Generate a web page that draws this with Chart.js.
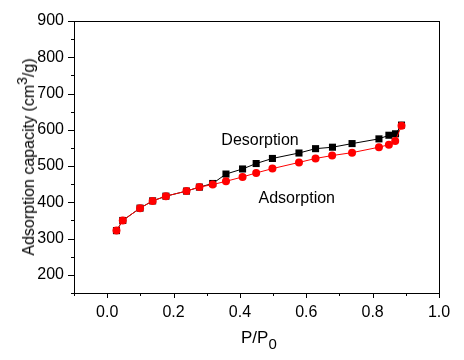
<!DOCTYPE html>
<html>
<head>
<meta charset="utf-8">
<script src="https://cdn.jsdelivr.net/npm/chart.js@4"></script>
<style>
  body { margin: 0; background: #fff; }
  #wrap { position: relative; width: 464px; height: 360px; }
  #chart { position: absolute; left: 0; top: 0; }
  .axtitle { position: absolute; font-family: Arial, "Liberation Sans", sans-serif; color: #000; white-space: nowrap; }
  #xtitle { left: 241px; top: 328px; font-size: 17px; }
  #xtitle sub { font-size: 15px; vertical-align: -6px; }
  #ytitle { left: 26px; top: 157px; font-size: 16px; transform: translate(-50%, -50%) rotate(-90deg); }
  #ytitle sup { font-size: 14px; vertical-align: 7px; }
</style>
</head>
<body>
<div id="wrap">
  <canvas id="chart" width="464" height="360"></canvas>
  <div class="axtitle" id="xtitle">P/P<sub>0</sub></div>
  <div class="axtitle" id="ytitle">Adsorption capacity (cm<sup>3</sup>/g)</div>
</div>
<script>
// isotherm data
const adsX = [0.028, 0.047, 0.099, 0.137, 0.177, 0.239, 0.278, 0.318, 0.358, 0.408,
              0.449, 0.498, 0.578, 0.628, 0.678, 0.738, 0.819, 0.849, 0.868, 0.887];
const adsY = [322, 350, 384, 404, 417, 431, 442, 449, 458, 470,
              481, 493, 510, 521, 529, 537, 552, 559, 569, 611];
const desX = [0.028, 0.047, 0.099, 0.137, 0.177, 0.239, 0.278, 0.318, 0.358, 0.408,
              0.449, 0.498, 0.578, 0.628, 0.679, 0.738, 0.819, 0.849, 0.869, 0.887];
const desY = [322, 350, 384, 404, 417, 431, 442, 452, 478, 492,
              507, 521, 536, 548, 552, 562, 575, 585, 589, 613];

// axis ranges
const xRange = [-0.1, 1.0];
const yRange = [150, 900];

// text labels inside the plot (data coordinates of left/baseline)
const notes = [
  { text: "Desorption", x: 0.344, y: 557 },
  { text: "Adsorption", x: 0.456, y: 397 }
];

const font = "Arial, 'Liberation Sans', sans-serif";

function toPoints(xs, ys) {
  return xs.map((x, i) => ({ x: x, y: ys[i] }));
}

// frame, short outer ticks and the two curve labels
const framePlugin = {
  id: "frame",
  afterDraw(chart) {
    const ctx = chart.ctx;
    const a = chart.chartArea;
    const xs = chart.scales.x, ys = chart.scales.y;
    ctx.save();
    ctx.strokeStyle = "#000";
    ctx.lineWidth = 1;
    ctx.strokeRect(Math.round(a.left) + 0.5, Math.round(a.top) + 0.5,
                   Math.round(a.right - a.left), Math.round(a.bottom - a.top));
    ctx.beginPath();
    xs.ticks.forEach(t => {
      const px = Math.round(xs.getPixelForValue(t.value)) + 0.5;
      const major = Math.round(t.value * 10) % 2 === 0;
      ctx.moveTo(px, Math.round(a.bottom));
      ctx.lineTo(px, Math.round(a.bottom) + (major ? 5 : 3));
    });
    ys.ticks.forEach(t => {
      const py = Math.round(ys.getPixelForValue(t.value)) + 0.5;
      const major = Math.round(t.value) % 100 === 0;
      ctx.moveTo(Math.round(a.left), py);
      ctx.lineTo(Math.round(a.left) - (major ? 6 : 3), py);
    });
    ctx.stroke();

    ctx.fillStyle = "#000";
    ctx.font = "16px " + font;
    ctx.textBaseline = "alphabetic";
    ctx.textAlign = "left";
    notes.forEach(n => {
      ctx.fillText(n.text, xs.getPixelForValue(n.x), ys.getPixelForValue(n.y));
    });
    ctx.restore();
  }
};

new Chart(document.getElementById("chart"), {
  type: "scatter",
  data: {
    datasets: [
      {
        label: "Adsorption",
        data: toPoints(adsX, adsY),
        showLine: true,
        borderColor: "#ff0000",
        backgroundColor: "#ff0000",
        borderWidth: 1,
        pointStyle: "circle",
        pointRadius: 4,
        pointBorderWidth: 0,
        tension: 0
      },
      {
        label: "Desorption",
        data: toPoints(desX, desY),
        showLine: true,
        borderColor: "#000",
        backgroundColor: "#000",
        borderWidth: 1,
        pointStyle: "rect",
        pointRadius: 5,
        pointBorderWidth: 0,
        tension: 0
      }
    ]
  },
  options: {
    responsive: false,
    animation: false,
    devicePixelRatio: 1,
    layout: { padding: { top: 21, right: 25, left: 0, bottom: 0 } },
    plugins: {
      legend: { display: false },
      tooltip: { enabled: false }
    },
    scales: {
      x: {
        type: "linear",
        min: xRange[0],
        max: xRange[1],
        border: { display: false },
        grid: { display: true, drawOnChartArea: false, color: "rgba(0,0,0,0)", tickLength: 5 },
        ticks: {
          stepSize: 0.1,
          autoSkip: false,
          maxRotation: 0,
          padding: 5,
          color: "#000",
          font: { family: font, size: 16 },
          callback: function(v) {
            const k = Math.round(v * 10);
            return (k >= 0 && k % 2 === 0) ? (k / 10).toFixed(1) : "";
          }
        },
        afterFit: function(scale) { scale.height = 67; }
      },
      y: {
        type: "linear",
        min: yRange[0],
        max: yRange[1],
        border: { display: false },
        grid: { display: true, drawOnChartArea: false, color: "rgba(0,0,0,0)", tickLength: 6 },
        ticks: {
          stepSize: 50,
          autoSkip: false,
          padding: 4,
          color: "#000",
          font: { family: font, size: 16 },
          callback: function(v) {
            return (v % 100 === 0 && v >= 200) ? String(v) : "";
          }
        },
        afterFit: function(scale) { scale.width = 74; }
      }
    }
  },
  plugins: [framePlugin]
});
</script>
</body>
</html>
